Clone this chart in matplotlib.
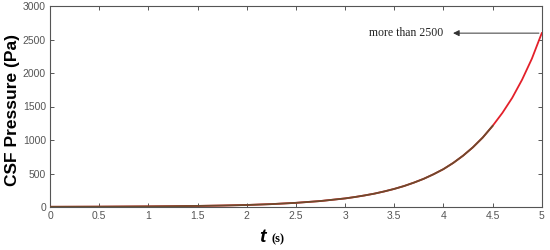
import matplotlib
matplotlib.use('Agg')
import matplotlib.pyplot as plt

# ======================
# Data
# ======================
t = [0, 0.25, 0.5, 0.75, 1, 1.25, 1.5, 1.75, 2, 2.25, 2.5, 2.75,
     3.0, 3.1, 3.2, 3.3, 3.4, 3.5, 3.6, 3.7, 3.8, 3.9,
     4.0, 4.1, 4.2, 4.3, 4.4, 4.5, 4.6, 4.7, 4.8, 4.9, 5.0]
pressure = [3, 4, 5, 7, 9, 12, 16, 22, 30, 43, 62, 89,
            128, 149, 173, 200, 233, 270, 313, 364, 421, 489,
            565, 658, 766, 891, 1037, 1210, 1405, 1630, 1900, 2215, 2595]
# second (darker) trace stops at t = 4.5
n_dark = 28
t_dark = t[:n_dark]
pressure_dark = pressure[:n_dark]

xticks = [0, 0.5, 1, 1.5, 2, 2.5, 3, 3.5, 4, 4.5, 5]
xticklabels = ['0', '0.5', '1', '1.5', '2', '2.5', '3', '3.5', '4', '4.5', '5']
yticks = [0, 500, 1000, 1500, 2000, 2500, 3000]
note_text = 'more than 2500'
note_y = 2595

# ======================
# Figure
# ======================
plt.rcParams['font.family'] = ['Liberation Sans', 'DejaVu Sans']
fig = plt.figure(figsize=(5.5, 2.5), dpi=100)
ax = fig.add_axes([0.091, 0.172, 0.894, 0.804])

ax.plot(t, pressure, color='#e3202a', linewidth=1.3, zorder=3)
ax.plot(t_dark, pressure_dark, color='#6e4a2c', linewidth=1.3, zorder=4)

ax.set_xlim(0, 5)
ax.set_ylim(0, 3000)
ax.set_xticks(xticks)
ax.set_xticklabels(xticklabels)
ax.set_yticks(yticks)

for s in ax.spines.values():
    s.set_color('#555555')
    s.set_linewidth(0.8)
ax.tick_params(direction='in', length=3, width=0.7, colors='#555555',
               labelcolor='#555555', labelsize=7.5, top=True, right=True, pad=3)

# y label as figure text so it sits fully inside the canvas
fig.text(0.022, 0.56, 'CSF Pressure (Pa)', rotation=90, ha='center', va='center',
         fontsize=12.5, fontweight='bold')

# x label: bold italic "t" and small "(s)"
fig.text(0.483, 0.03, 't', fontsize=14, fontweight='bold', fontstyle='italic',
         family=['Liberation Sans', 'DejaVu Sans'], ha='right', va='baseline')
fig.text(0.493, 0.03, '(s)', fontsize=9, fontweight='bold',
         family=['Liberation Serif', 'DejaVu Serif'], ha='left', va='baseline')

# annotation with arrow
ax.annotate('', xy=(4.07, note_y), xytext=(5, note_y),
            arrowprops=dict(arrowstyle='-|>', color='#333333', lw=0.7,
                            mutation_scale=9))
ax.text(4.0, note_y, note_text, ha='right', va='center', fontsize=8.5,
        family=['Liberation Serif', 'DejaVu Serif'], color='#222222')

fig.savefig('out.png', dpi=100)
